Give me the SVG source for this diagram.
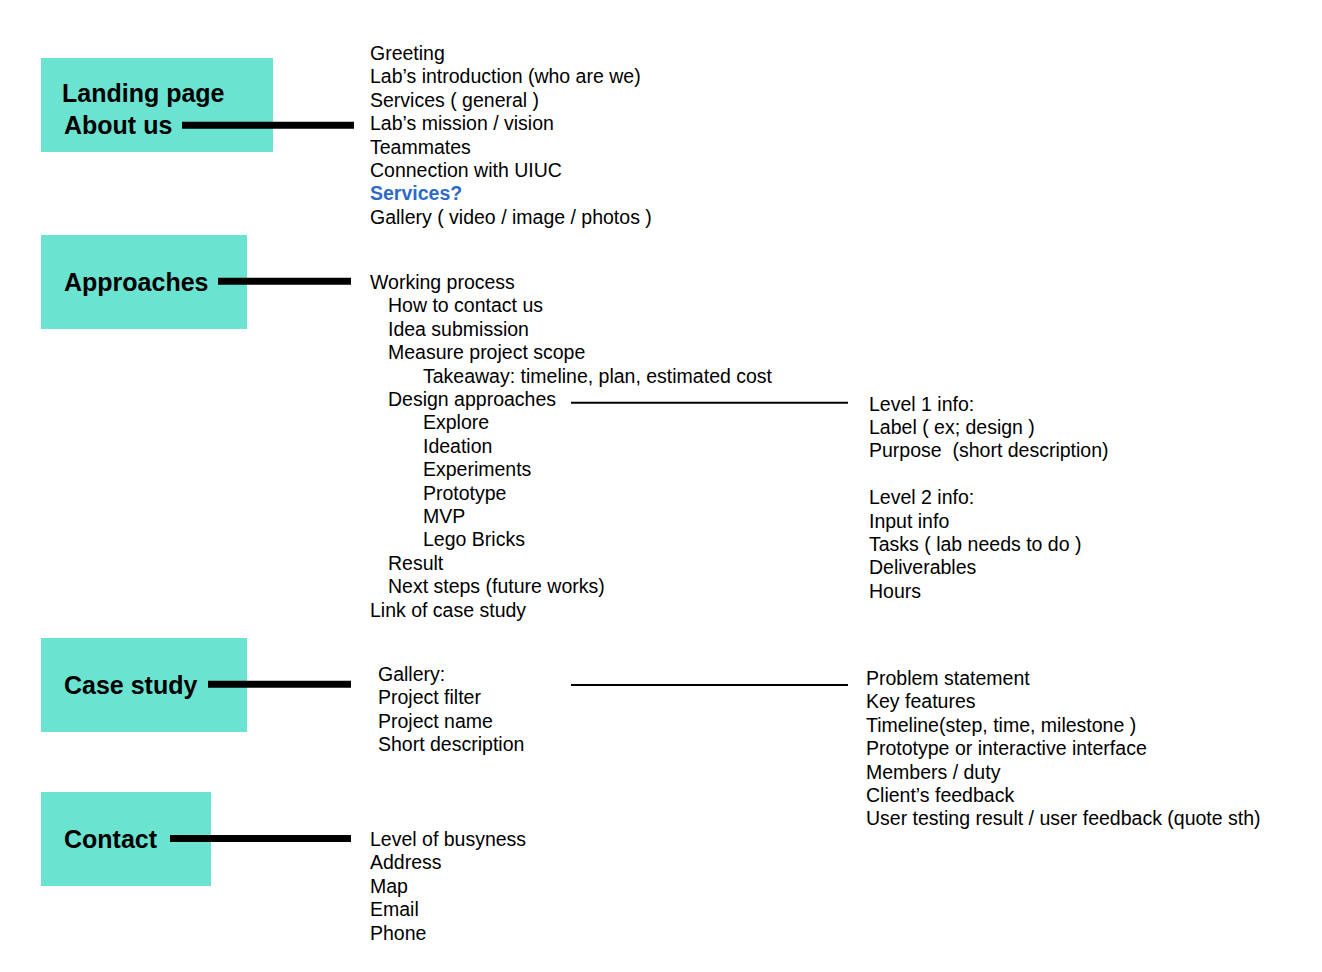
<svg xmlns="http://www.w3.org/2000/svg" width="1322" height="972" viewBox="0 0 1322 972">
<style>
.box{fill:#6BE3D1}
.title{font-family:"Liberation Sans",Arial,sans-serif;font-size:25px;font-weight:bold;fill:#000}
.t{font-family:"Liberation Sans",Arial,sans-serif;font-size:19.5px;fill:#000}
.blue{fill:#2E6BC6;font-weight:bold}
.thick{stroke:#000;stroke-width:7;fill:none}
.thin{stroke:#000;stroke-width:2;fill:none}
</style>
<rect width="1322" height="972" fill="#fff"/>
<g id="node-landing">
<rect class="box" x="41" y="58" width="232" height="94"/>
<text class="title" x="62" y="102">Landing page</text>
<text class="title" x="64" y="133.5">About us</text>
</g>
<g id="node-approaches">
<rect class="box" x="41" y="235" width="206" height="94"/>
<text class="title" x="64" y="291">Approaches</text>
</g>
<g id="node-casestudy">
<rect class="box" x="41" y="638" width="206" height="94"/>
<text class="title" x="64" y="694">Case study</text>
</g>
<g id="node-contact">
<rect class="box" x="41" y="792" width="170" height="94"/>
<text class="title" x="64" y="848">Contact</text>
</g>
<g id="connectors">
<line class="thick" x1="182" y1="125.3" x2="354" y2="125.3"/>
<line class="thick" x1="218" y1="281.3" x2="351" y2="281.3"/>
<line class="thick" x1="208" y1="684.3" x2="351" y2="684.3"/>
<line class="thick" x1="170" y1="838.5" x2="351" y2="838.5"/>
<line class="thin" x1="571" y1="402.7" x2="848" y2="402.7"/>
<line class="thin" x1="571" y1="685" x2="848" y2="685"/>
</g>
<g id="list-landing">
<text class="t" x="370" y="60">
<tspan x="370">Greeting</tspan>
<tspan x="370" dy="23.4">Lab’s introduction (who are we)</tspan>
<tspan x="370" dy="23.4">Services ( general )</tspan>
<tspan x="370" dy="23.4">Lab’s mission / vision</tspan>
<tspan x="370" dy="23.4">Teammates</tspan>
<tspan x="370" dy="23.4">Connection with UIUC</tspan>
<tspan x="370" dy="23.4" class="blue">Services?</tspan>
<tspan x="370" dy="23.4">Gallery ( video / image / photos )</tspan>
</text>
</g>
<g id="list-approaches">
<text class="t" x="370" y="289">
<tspan x="370">Working process</tspan>
<tspan x="388" dy="23.4">How to contact us</tspan>
<tspan x="388" dy="23.4">Idea submission</tspan>
<tspan x="388" dy="23.4">Measure project scope</tspan>
<tspan x="423" dy="23.4">Takeaway: timeline, plan, estimated cost</tspan>
<tspan x="388" dy="23.4">Design approaches</tspan>
<tspan x="423" dy="23.4">Explore</tspan>
<tspan x="423" dy="23.4">Ideation</tspan>
<tspan x="423" dy="23.4">Experiments</tspan>
<tspan x="423" dy="23.4">Prototype</tspan>
<tspan x="423" dy="23.4">MVP</tspan>
<tspan x="423" dy="23.4">Lego Bricks</tspan>
<tspan x="388" dy="23.4">Result</tspan>
<tspan x="388" dy="23.4">Next steps (future works)</tspan>
<tspan x="370" dy="23.4">Link of case study</tspan>
</text>
</g>
<g id="list-levels">
<text class="t" x="869" y="410.5">
<tspan x="869">Level 1 info:</tspan>
<tspan x="869" dy="23.4">Label ( ex; design )</tspan>
<tspan x="869" dy="23.4">Purpose &#160;(short description)</tspan>
<tspan x="869" dy="46.8">Level 2 info:</tspan>
<tspan x="869" dy="23.4">Input info</tspan>
<tspan x="869" dy="23.4">Tasks ( lab needs to do )</tspan>
<tspan x="869" dy="23.4">Deliverables</tspan>
<tspan x="869" dy="23.4">Hours</tspan>
</text>
</g>
<g id="list-casestudy">
<text class="t" x="378" y="681">
<tspan x="378">Gallery:</tspan>
<tspan x="378" dy="23.4">Project filter</tspan>
<tspan x="378" dy="23.4">Project name</tspan>
<tspan x="378" dy="23.4">Short description</tspan>
</text>
</g>
<g id="list-casedetail">
<text class="t" x="866" y="685">
<tspan x="866">Problem statement</tspan>
<tspan x="866" dy="23.4">Key features</tspan>
<tspan x="866" dy="23.4">Timeline(step, time, milestone )</tspan>
<tspan x="866" dy="23.4">Prototype or interactive interface</tspan>
<tspan x="866" dy="23.4">Members / duty</tspan>
<tspan x="866" dy="23.4">Client’s feedback</tspan>
<tspan x="866" dy="23.4">User testing result / user feedback (quote sth)</tspan>
</text>
</g>
<g id="list-contact">
<text class="t" x="370" y="846">
<tspan x="370">Level of busyness</tspan>
<tspan x="370" dy="23.4">Address</tspan>
<tspan x="370" dy="23.4">Map</tspan>
<tspan x="370" dy="23.4">Email</tspan>
<tspan x="370" dy="23.4">Phone</tspan>
</text>
</g>
</svg>
